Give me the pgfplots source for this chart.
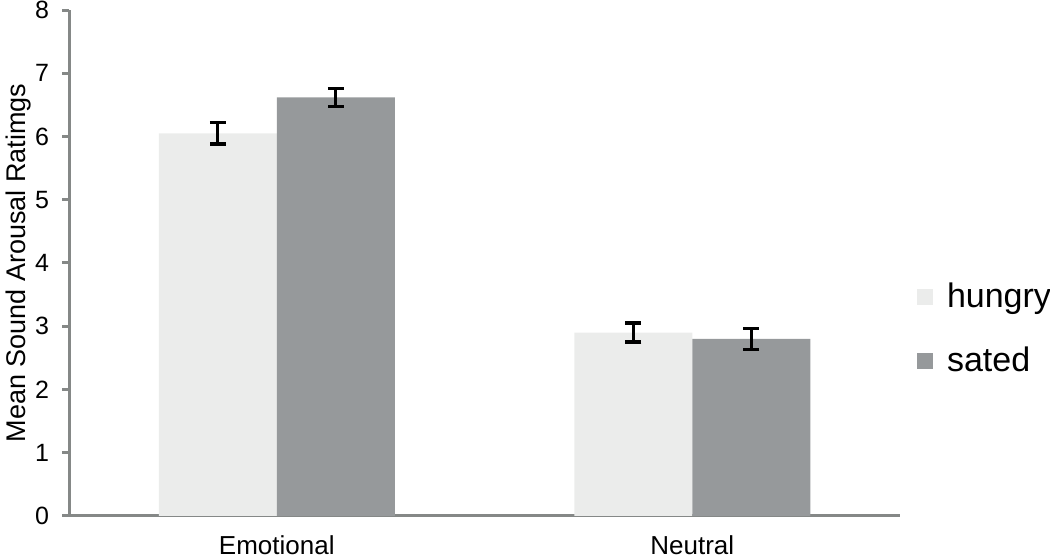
\documentclass[border=0pt]{standalone}
\usepackage{fontspec}
\setmainfont{Liberation Sans}
\usepackage{pgfplots}
\pgfplotsset{compat=1.18}
\definecolor{hungry}{HTML}{EBECEB}
\definecolor{sated}{HTML}{96999B}
\definecolor{axisgray}{HTML}{858887}
\begin{document}
\begin{tikzpicture}
\begin{axis}[
  at={(34.5pt,22pt)}, anchor=south west,
  scale only axis, width=415.5pt, height=253pt,
  xmin=-0.5, xmax=1.5, ymin=0, ymax=8,
  axis x line*=bottom, axis y line*=left,
  axis line style={axisgray, line width=1.5pt, -},
  ytick={0,1,...,8},
  xtick={0,1}, xticklabels={Emotional,Neutral},
  major x tick style={draw=none},
  extra x ticks={-0.5,0.5,1.5}, extra x tick labels={},
  extra x tick style={tick style={axisgray, line width=1.5pt}},
  tick style={axisgray, line width=1.5pt},
  major tick length=3.5pt, tick align=outside,
  /pgf/number format/assume math mode=true,
  yticklabel style={font=\fontsize{12.5}{14}\selectfont, black, xshift=-3pt},
  xticklabel style={font=\fontsize{13}{15}\selectfont, black, yshift=-3pt},
  ylabel={Mean Sound Arousal Ratimgs},
  ylabel style={font=\fontsize{13.5}{15}\selectfont, at={(axis description cs:-0.061,0.5)}, anchor=center, rotate=0},
  legend style={draw=none, fill=none, at={(1.02,0.37)}, anchor=west,
    font=\fontsize{17}{19}\selectfont, row sep=14pt, inner sep=0pt,
    /tikz/every odd column/.append style={column sep=5pt}},
  legend cell align=left,
  legend image code/.code={\fill[#1] (0pt,-4pt) rectangle (8pt,4pt);},
]
\addplot[ybar, bar width=0.284, bar shift=0pt, fill=hungry, draw=none,
  error bars/.cd, y dir=both, y explicit,
  error bar style={black, line width=1.6pt},
  error mark options={black, rotate=90, mark size=4pt, line width=1.6pt}]
  table[x=x, y=y, y error=e] {
x y e
-0.142 6.05 0.17
0.858 2.90 0.15
};
\addlegendentry{hungry}
\addplot[ybar, bar width=0.284, bar shift=0pt, fill=sated, draw=none,
  error bars/.cd, y dir=both, y explicit,
  error bar style={black, line width=1.6pt},
  error mark options={black, rotate=90, mark size=4pt, line width=1.6pt}]
  table[x=x, y=y, y error=e] {
x y e
0.142 6.62 0.14
1.142 2.80 0.17
};
\addlegendentry{sated}
\end{axis}
\pgfresetboundingbox
\path[use as bounding box] (0,0) rectangle (525pt,280pt);
\end{tikzpicture}
\end{document}
